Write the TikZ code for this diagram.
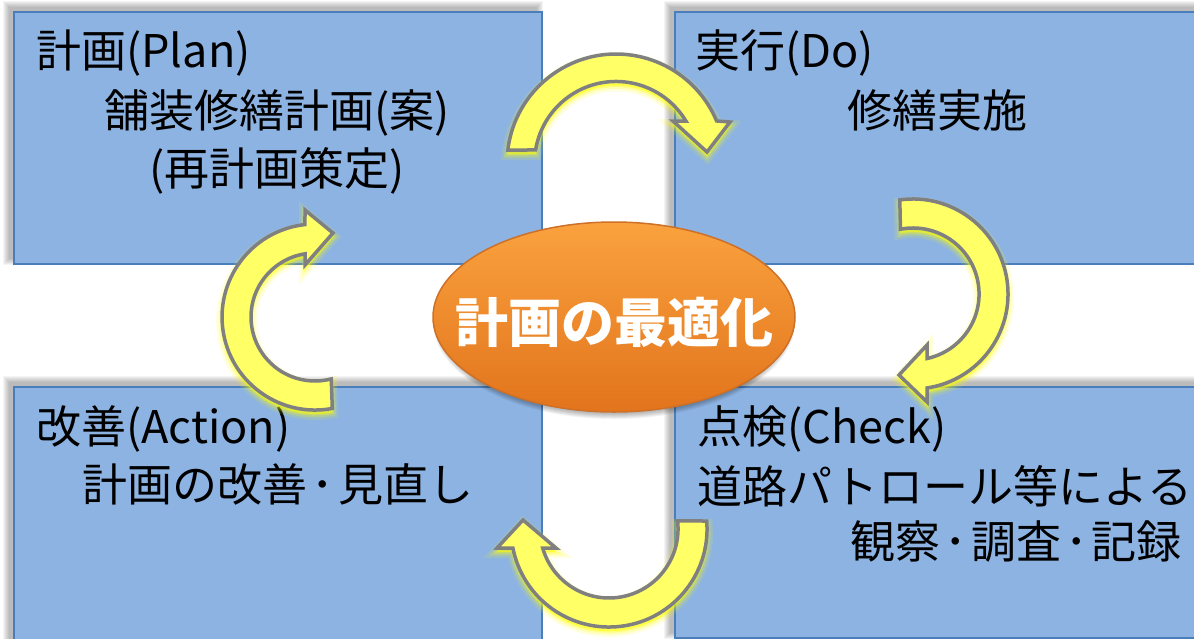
\documentclass[tikz,border=0pt]{standalone}
\usepackage{fontspec}
\newfontfamily\cjk{Noto Sans CJK JP}
\usetikzlibrary{shapes.geometric}
\definecolor{boxfill}{RGB}{141,179,226}
\definecolor{boxline}{RGB}{74,126,187}
\definecolor{arrowfill}{RGB}{255,255,102}
\definecolor{arrowline}{RGB}{128,128,128}
\definecolor{glowcol}{RGB}{255,255,0}
\definecolor{orangetop}{RGB}{250,162,62}
\definecolor{orangebot}{RGB}{226,116,28}
\definecolor{orangeline}{RGB}{205,112,40}
\newcommand\pdcaDot{\kern4pt･\kern4pt}
\newcommand\pdcaArrowA[1]{\path[#1] (507.8,-150.1) arc[start angle=173.2, end angle=22.7, radius=109] -- (730,-122) -- (707,-152) -- (673,-121) -- (685.9,-121.0) arc[start angle=31.0, end angle=170.8, radius=81.5] -- cycle;}
\newcommand\pdcaArrowB[1]{\path[#1] (899.8,-199.9) arc[start angle=98, end angle=-81.5, radius=95] -- (927,-402) -- (899,-375) -- (927,-345) -- (927.0,-358.5) arc[start angle=-77.8, end angle=101, radius=66] -- cycle;}
\newcommand\pdcaArrowC[1]{\path[#1] (706.7,-521.0) arc[start angle=4.7, end angle=-168.8, radius=98] -- (497,-548) -- (523,-520) -- (556,-548) -- (542.7,-548.0) arc[start angle=-164, end angle=6.7, radius=69] -- cycle;}
\newcommand\pdcaArrowD[1]{\path[#1] (332.3,-408.4) arc[start angle=-79.3, end angle=-263.8, radius=93] -- (305,-210) -- (333,-233) -- (305,-265) -- (305.0,-253.8) arc[start angle=99, end angle=284.7, radius=64] -- cycle;}
\newcommand\pdcaShadow[4]{\foreach \k in {0,...,6}{\fill[black, opacity=0.045] (#1-4-\k,#2+4+\k) rectangle (#3-4+\k,#4+4-\k);}}
\newcommand\pdcaAllArrows[1]{\pdcaArrowA{#1}\pdcaArrowB{#1}\pdcaArrowC{#1}\pdcaArrowD{#1}}
\begin{document}
\begin{tikzpicture}[x=1pt,y=1pt,
  box/.style={draw=boxline, line width=1.5pt, fill=boxfill, anchor=north west, inner sep=0pt},
  txt/.style={font=\cjk\fontsize{45}{54}\selectfont, text=black, inner sep=0pt},
  ctxt/.style={font=\cjk\bfseries\fontsize{53}{60}\selectfont, text=white, inner sep=0pt},
  glow/.style={fill=glowcol, draw=glowcol, shift={(0,-4)}},
  arr/.style={fill=arrowfill, draw=arrowline, line width=3.5pt}]
\useasboundingbox (0,0) rectangle (1194,-638);
\clip (0,0) rectangle (1194,-638);
% shadows of the boxes
\pdcaShadow{13}{-11}{541}{-263}
\pdcaShadow{674}{-11}{1210}{-263}
\pdcaShadow{13}{-386}{541}{-660}
\pdcaShadow{674}{-386}{1210}{-637}
% boxes
\node[box, minimum width=528pt, minimum height=252pt] (plan) at (13,-11) {};
\node[box, minimum width=540pt, minimum height=252pt] (do) at (674,-11) {};
\node[box, minimum width=528pt, minimum height=270pt] (act) at (13,-386) {};
\node[box, minimum width=540pt, minimum height=251pt] (check) at (674,-386) {};
% texts
\node[txt, anchor=base west] (p1) at (36,-67) {計画(Plan)};
\node[txt, anchor=base] (p2) at (277,-127) {舗装修繕計画(案)};
\node[txt, anchor=base] (p3) at (277,-185) {(再計画策定)};
\node[txt, anchor=base west] (d1) at (695,-67) {実行(Do)};
\node[txt, anchor=base] (d2) at (937,-127) {修繕実施};
\node[txt, anchor=base west] (a1) at (36,-443) {改善(Action)};
\node[txt, anchor=base] (a2) at (278,-501) {計画の改善\pdcaDot 見直し};
\node[txt, anchor=base west] (c1) at (697,-443) {点検(Check)};
\node[txt, anchor=base west] (c2) at (697,-503) {道路パトロール等による};
\node[txt, anchor=base east] (c3) at (1182,-558) {観察\pdcaDot 調査\pdcaDot 記録};
% central ellipse
\foreach \k in {0,...,5}{\fill[black, opacity=0.05] (614,-322) ellipse[x radius=176+\k, y radius=92+\k];}
\node[ellipse, draw=orangeline, line width=1.5pt, top color=orangetop, bottom color=orangebot,
  minimum width=362pt, minimum height=190pt, inner sep=0pt] (opt) at (614,-317) {};
\node[ctxt] (optlabel) at (614,-322) {計画の最適化};
% arrows
\pdcaAllArrows{glow, line width=12pt, opacity=0.12}
\pdcaAllArrows{glow, line width=7pt, opacity=0.2}
\pdcaAllArrows{glow, line width=3pt, opacity=0.3}
\pdcaAllArrows{arr}
\end{tikzpicture}
\end{document}
